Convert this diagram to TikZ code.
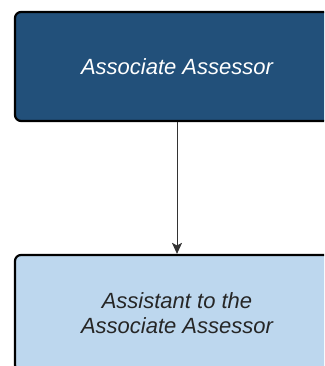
\documentclass[tikz,border=0pt]{standalone}
\usepackage{fontspec}
\setmainfont{Liberation Sans}
\usetikzlibrary{arrows.meta}
\definecolor{darkbox}{HTML}{22507A}
\definecolor{lightbox}{HTML}{BDD7EE}
\tikzset{
  box/.style={draw=black, line width=2.2pt, rounded corners=6pt, minimum width=324pt, align=center,
    font=\fontsize{22}{25}\selectfont\itshape, inner sep=0pt},
  conn/.style={draw=black!80, line width=1pt, -{Stealth[length=11pt,width=10pt,inset=2.5pt]}}
}
\begin{document}
\begin{tikzpicture}[x=1pt,y=1pt]
\useasboundingbox (0,0) rectangle (324,366);
\clip (0,0) rectangle (324,366);
\node[box, fill=darkbox, text=white, minimum height=109pt] (top) at (177,299.5) {Associate Assessor};
\node[box, fill=lightbox, text=black!85, minimum height=116pt] (bot) at (177,53) {Assistant to the\\Associate Assessor};
\draw[conn] (top.south) -- (bot.north);
\end{tikzpicture}
\end{document}
